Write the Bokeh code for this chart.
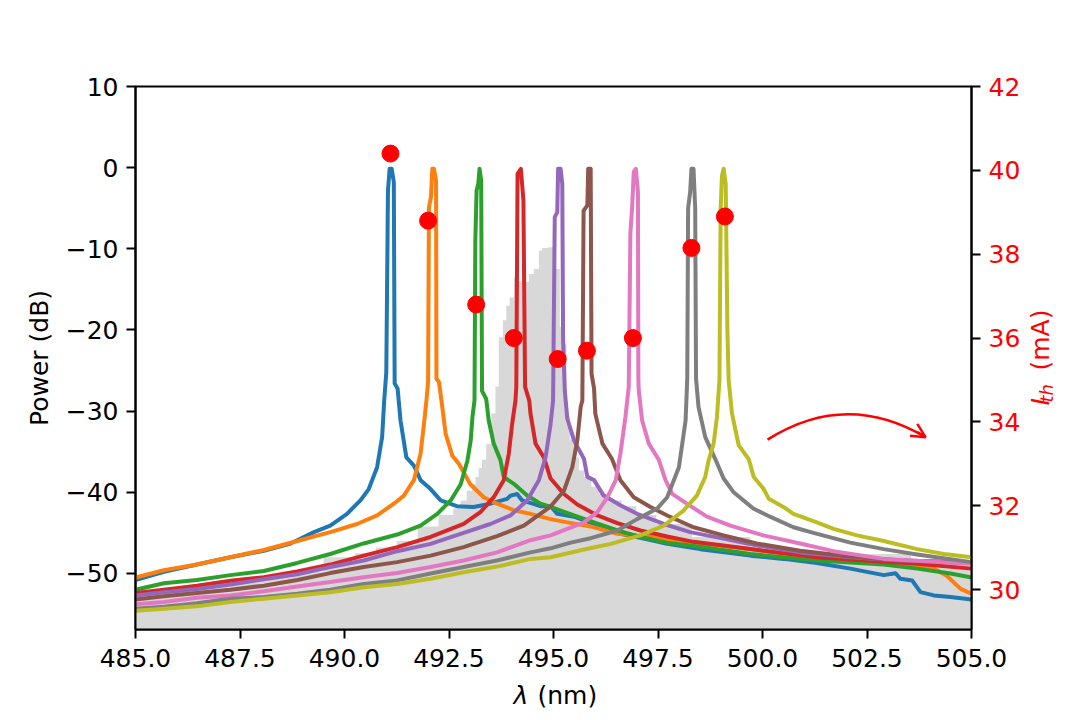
from bokeh.embed import file_html
from bokeh.models import (Arrow, FixedTicker, Label, LinearAxis, NumeralTickFormatter, OpenHead,
                          Range1d)
from bokeh.plotting import figure
from bokeh.resources import INLINE

# spectra, lambda in nm and power in dB
blue_x = [485, 485.68, 486.47, 487.27, 488.07, 488.71, 489.27, 489.66, 490.06, 490.38, 490.58, 490.78, 490.9, 490.95, 491.0, 491.04, 491.08, 491.13, 491.18, 491.2, 491.27, 491.34, 491.48, 491.66, 491.82, 492.06, 492.3, 492.69, 493.09, 493.49, 493.89, 493.97, 494.13, 494.25, 494.69, 494.93, 495.09, 495.49, 496.6, 497.16, 497.72, 498.51, 499.71, 500.5, 501.3, 502.1, 502.9, 503.18, 503.3, 503.58, 503.78, 504.1, 504.5, 505]
blue_y = [-50.8, -49.8, -48.9, -48.0, -47.2, -46.3, -44.9, -44.1, -42.65, -41.0, -39.6, -36.9, -33.2, -28.7, -25.2, -2.8, -0.14, -0.14, -1.8, -26.6, -27.2, -31.15, -35.7, -36.7, -38.5, -39.6, -41.0, -41.7, -41.8, -41.4, -40.8, -40.4, -40.2, -41.0, -41.7, -41.7, -42.65, -43.0, -45.1, -45.7, -46.35, -47.0, -47.8, -48.2, -48.7, -49.4, -50.2, -49.96, -50.66, -50.86, -52.3, -52.7, -52.9, -53.2]
orange_x = [485, 485.68, 486.47, 487.27, 488.07, 488.87, 489.66, 490.3, 490.78, 491.18, 491.42, 491.66, 491.82, 491.9, 491.96, 492.0, 492.02, 492.07, 492.1, 492.14, 492.19, 492.2, 492.26, 492.32, 492.42, 492.58, 492.74, 493.01, 493.33, 493.65, 494.05, 494.45, 494.93, 495.33, 495.89, 496.53, 497.33, 500, 501.3, 502.9, 504.1, 504.4, 504.74, 505]
orange_y = [-50.5, -49.6, -48.9, -48.0, -47.1, -46.0, -44.9, -43.9, -42.85, -41.4, -40.4, -38.5, -35.25, -31.6, -28.7, -26.4, -4.9, -3.6, -0.14, -0.14, -1.6, -26.0, -26.4, -28.7, -32.8, -35.5, -36.5, -39.0, -40.6, -41.4, -42.2, -42.65, -43.3, -43.7, -44.2, -45.1, -45.5, -47.2, -47.9, -48.6, -49.4, -50.25, -51.9, -52.5]
green_x = [485, 485.68, 486.47, 487.27, 488.07, 488.87, 489.66, 490.46, 491.26, 491.82, 492.22, 492.54, 492.78, 492.94, 493.02, 493.06, 493.11, 493.13, 493.16, 493.2, 493.23, 493.27, 493.29, 493.39, 493.45, 493.57, 493.73, 493.81, 494.05, 494.37, 494.69, 494.93, 495.49, 495.97, 496.53, 497.08, 497.72, 498.51, 499.71, 501.3, 502.9, 503.7, 504.5, 505]
green_y = [-52.0, -51.2, -50.8, -50.2, -49.7, -48.7, -47.6, -46.3, -45.2, -44.1, -42.65, -41.0, -39.0, -36.1, -33.6, -30.75, -28.7, -9.0, -2.8, -2.0, -0.14, -1.6, -27.5, -28.5, -31.15, -34.0, -36.0, -38.1, -38.95, -40.4, -41.4, -41.8, -42.85, -43.7, -44.7, -45.5, -46.2, -46.7, -47.6, -48.4, -48.9, -49.4, -50.0, -50.5]
red_x = [485, 485.68, 486.47, 487.27, 488.07, 488.87, 489.66, 490.46, 491.26, 492.06, 492.85, 493.25, 493.57, 493.81, 493.93, 494.01, 494.09, 494.11, 494.14, 494.22, 494.28, 494.32, 494.42, 494.45, 494.57, 494.77, 494.93, 495.25, 495.57, 496.05, 496.53, 497.08, 497.72, 498.35, 499.15, 500.1, 501.3, 502.5, 503.7, 505]
red_y = [-52.4, -52.0, -51.5, -50.9, -50.45, -49.75, -48.9, -47.8, -46.75, -45.5, -43.9, -42.45, -40.6, -38.5, -35.25, -31.6, -28.7, -27.0, -0.75, -0.14, -4.0, -27.0, -28.7, -30.3, -34.0, -35.7, -38.3, -40.2, -41.5, -42.85, -43.8, -44.7, -45.45, -46.1, -46.6, -47.25, -48.0, -48.4, -48.8, -49.4]
purple_x = [485, 485.68, 486.47, 487.27, 488.07, 488.87, 489.66, 490.46, 491.26, 492.06, 492.85, 493.49, 493.97, 494.37, 494.65, 494.81, 494.93, 494.99, 495.03, 495.09, 495.11, 495.17, 495.21, 495.23, 495.27, 495.33, 495.49, 495.73, 495.81, 495.97, 496.2, 496.6, 497, 497.64, 498.27, 499.07, 499.86, 500.9, 502.1, 503.3, 505]
purple_y = [-52.7, -52.3, -51.9, -51.35, -50.7, -50.1, -49.2, -48.4, -47.25, -46.35, -45.0, -43.9, -42.85, -41.0, -38.5, -35.7, -31.6, -28.7, -6.1, -5.5, -0.14, -0.14, -2.0, -21.3, -27.45, -30.9, -33.6, -35.9, -38.1, -38.5, -40.4, -41.6, -42.65, -43.9, -44.9, -45.7, -46.55, -47.4, -48.0, -48.4, -48.6]
brown_x = [485, 485.68, 486.47, 487.27, 488.07, 488.87, 489.66, 490.46, 491.26, 492.06, 492.85, 493.65, 494.29, 494.93, 495.25, 495.45, 495.57, 495.65, 495.69, 495.72, 495.81, 495.83, 495.89, 495.91, 495.97, 496.0, 496.17, 496.4, 496.6, 496.92, 497.32, 497.72, 498.35, 499.07, 499.86, 500.9, 502.1, 503.3, 505]
brown_y = [-53.2, -52.8, -52.4, -52.0, -51.5, -50.8, -49.95, -49.2, -48.6, -47.8, -46.75, -45.4, -44.1, -41.75, -39.8, -36.9, -33.6, -29.5, -28.7, -5.3, -4.65, -0.14, -0.14, -25.4, -27.2, -30.3, -34.0, -35.9, -38.5, -40.6, -41.8, -42.85, -44.3, -45.3, -46.3, -47.2, -47.9, -48.4, -48.7]
pink_x = [485, 485.68, 486.47, 487.27, 488.07, 488.87, 489.66, 490.46, 491.26, 492.06, 492.85, 493.65, 494.45, 494.93, 495.33, 495.73, 496.05, 496.29, 496.49, 496.6, 496.72, 496.8, 496.84, 496.88, 496.92, 496.97, 497.02, 497.03, 497.04, 497.12, 497.28, 497.52, 497.68, 497.84, 498.19, 498.67, 499.23, 500.02, 500.9, 501.7, 502.9, 505]
pink_y = [-53.8, -53.5, -53.0, -52.7, -52.2, -51.6, -51.05, -50.45, -49.95, -49.2, -48.4, -47.4, -45.9, -45.3, -44.5, -43.7, -42.45, -40.6, -38.5, -35.25, -30.75, -27.0, -8.0, -5.0, -0.5, -0.14, -3.0, -26.0, -27.45, -31.15, -34.0, -36.0, -38.5, -40.2, -41.4, -43.0, -44.1, -45.3, -46.3, -47.25, -48.2, -48.8]
gray_x = [485, 485.68, 486.47, 487.27, 488.07, 488.87, 489.66, 490.46, 491.26, 492.06, 492.85, 493.65, 494.45, 494.93, 495.41, 495.89, 496.53, 497, 497.48, 497.72, 498, 498.16, 498.2, 498.22, 498.27, 498.3, 498.35, 498.39, 498.41, 498.47, 498.63, 498.87, 499.07, 499.31, 499.78, 500.18, 500.74, 501.22, 502.1, 502.9, 503.7, 505]
gray_y = [-54.35, -54.1, -53.65, -53.1, -52.9, -52.5, -52.0, -51.3, -50.85, -50.0, -49.2, -48.4, -47.4, -46.9, -46.2, -45.65, -44.7, -43.3, -42.0, -40.6, -36.9, -31.15, -26.0, -5.0, -3.0, -0.14, -0.14, -5.0, -26.0, -29.5, -33.2, -35.9, -38.3, -40.0, -42.0, -43.0, -44.3, -45.0, -46.2, -47.0, -47.65, -48.6]
olive_x = [485, 485.68, 486.47, 487.27, 488.07, 488.87, 489.66, 490.46, 491.26, 492.06, 492.85, 493.65, 494.45, 494.93, 495.73, 496.37, 497.08, 497.64, 498.11, 498.43, 498.63, 498.71, 498.83, 498.91, 498.97, 499.0, 499.03, 499.07, 499.12, 499.16, 499.19, 499.27, 499.43, 499.67, 499.79, 500.03, 500.15, 500.5, 500.74, 501.3, 501.7, 502.26, 502.9, 503.7, 504.34, 505]
olive_y = [-54.6, -54.35, -54.05, -53.5, -53.1, -52.7, -52.3, -51.7, -51.3, -50.65, -49.85, -49.15, -48.2, -48.0, -47.05, -46.35, -45.3, -44.1, -42.25, -40.4, -38.1, -36.1, -34.0, -30.75, -26.2, -5.0, -1.0, -0.14, -2.0, -20.0, -26.2, -30.3, -34.2, -35.9, -38.1, -39.6, -40.8, -41.8, -42.65, -43.7, -44.5, -45.3, -46.0, -47.0, -47.6, -48.0]

# grey reference spectrum behind the lines
ref_x = [485, 486, 487, 488, 489, 490, 490.5, 491, 491.5, 492, 492.5, 492.7, 492.85, 493, 493.1, 493.17, 493.25, 493.33, 493.45, 493.57, 493.65, 493.73, 493.85, 493.89, 494.01, 494.09, 494.2, 494.37, 494.45, 494.61, 494.69, 494.77, 494.97, 495.01, 495.09, 495.21, 495.29, 495.33, 495.45, 495.57, 495.65, 495.81, 496, 496.2, 496.5, 496.76, 497.2, 497.72, 498.91, 500.5, 502.1, 505]
ref_y = [-52.5, -52.0, -51.3, -50.6, -49.8, -48.0, -47.5, -46.8, -46.0, -44.2, -42.8, -42.0, -41.0, -39.8, -39.0, -38.1, -37.0, -36.0, -34.0, -30.3, -27.0, -20.9, -18.8, -17.0, -16.0, -13.5, -14.0, -14.1, -13.1, -12.5, -10.2, -9.9, -9.8, -8.8, -12.5, -19.6, -21.7, -30.7, -33.5, -35.7, -37.3, -38.1, -39.3, -40.2, -41.0, -41.7, -42.8, -43.9, -45.5, -47.2, -47.6, -48.4]

# threshold current at each peak
peak_wl = [491.1, 492.0, 493.15, 494.05, 495.1, 495.8, 496.9, 498.3, 499.1]
peak_ith = [40.4, 38.8, 36.8, 36.0, 35.5, 35.7, 36.0, 38.15, 38.9]

x_ticks = [485, 487.5, 490, 492.5, 495, 497.5, 500, 502.5, 505]
y_ticks = [-50, -40, -30, -20, -10, 0, 10]
ith_ticks = [30, 32, 34, 36, 38, 40, 42]

series = [(blue_x, blue_y, "#1f77b4"), (orange_x, orange_y, "#ff7f0e"), (green_x, green_y, "#2ca02c"),
          (red_x, red_y, "#d62728"), (purple_x, purple_y, "#9467bd"), (brown_x, brown_y, "#8c564b"),
          (pink_x, pink_y, "#e377c2"), (gray_x, gray_y, "#7f7f7f"), (olive_x, olive_y, "#bcbd22")]

FONT = "DejaVu Sans"
SIZE = "25px"
BOTTOM = -56.9
W, H = 1072, 712

p = figure(width=W, height=H, output_backend="svg", toolbar_location=None, tools="",
           x_range=Range1d(485, 505), y_range=Range1d(BOTTOM, 10),
           min_border_left=135, min_border_right=101, min_border_top=86, min_border_bottom=83)
p.extra_y_ranges = {"ith": Range1d(29.05, 42)}
p.grid.visible = False
p.outline_line_color = "black"
p.outline_line_width = 2

p.varea_step(x=ref_x, y1=[BOTTOM] * len(ref_x), y2=ref_y, step_mode="center", fill_color="#d8d8d8")
for xs, ys, col in series:
    p.line(xs, ys, line_width=4, line_color=col, line_join="round")
p.scatter(peak_wl, peak_ith, size=17, color="red", y_range_name="ith")

# curved arrow showing the scan direction
p.quadratic(x0=[500.12], y0=[-33.5], x1=[503.9], y1=[-33.2], cx=[502.0], cy=[-27.4],
            line_color="red", line_width=2.5)
p.add_layout(Arrow(end=OpenHead(size=14, line_color="red", line_width=2.5), line_color="red", line_width=2.5,
                   x_start=503.7, y_start=-32.56, x_end=503.9, y_end=-33.2))

p.xaxis.ticker = FixedTicker(ticks=x_ticks)
p.xaxis.formatter = NumeralTickFormatter(format="0.0")
p.yaxis.ticker = FixedTicker(ticks=y_ticks)
p.yaxis.axis_label = "Power (dB)"
p.yaxis.axis_label_text_font_style = "normal"
p.yaxis.axis_label_text_color = "black"
p.yaxis.axis_label_text_font = FONT
p.yaxis.axis_label_text_font_size = SIZE
p.yaxis.axis_label_standoff = 9

right = LinearAxis(y_range_name="ith", ticker=FixedTicker(ticks=ith_ticks))
p.add_layout(right, "right")

for ax in [p.xaxis[0], p.yaxis[0], right]:
    ax.major_label_text_font = FONT
    ax.major_label_text_font_size = SIZE
    ax.major_label_text_color = "red" if ax is right else "black"
    ax.major_label_standoff = 8
    ax.major_tick_in = 0
    ax.major_tick_out = 9
    ax.major_tick_line_width = 2
    ax.axis_line_width = 2
    ax.minor_tick_line_color = None
p.xaxis.major_label_standoff = 10


def put(text, x, y, side, size=SIZE, style="normal", color="black", angle=0):
    # canvas units count from the figure's top left; a label in the centre gets cut at the frame,
    # and each side panel grows with its labels, so they go where there is room to spare
    p.add_layout(Label(x=x, y=y, x_units="canvas", y_units="canvas", text=text, text_font=FONT,
                       text_font_size=size, text_font_style=style, text_color=color, angle=angle,
                       angle_units="deg", text_baseline="alphabetic"), side)


# axis labels with italic parts are put together by hand
put("λ", 513, 695, "above", style="italic")
put("(nm)", 537, 695, "below")
put("I", 1040, 405, "above", style="italic", color="red", angle=90)
put("th", 1046, 402, "above", size="18px", style="italic", color="red", angle=90)
put("(mA)", 1040, 370, "right", color="red", angle=90)

open("out.html", "w").write(file_html(p, INLINE))
